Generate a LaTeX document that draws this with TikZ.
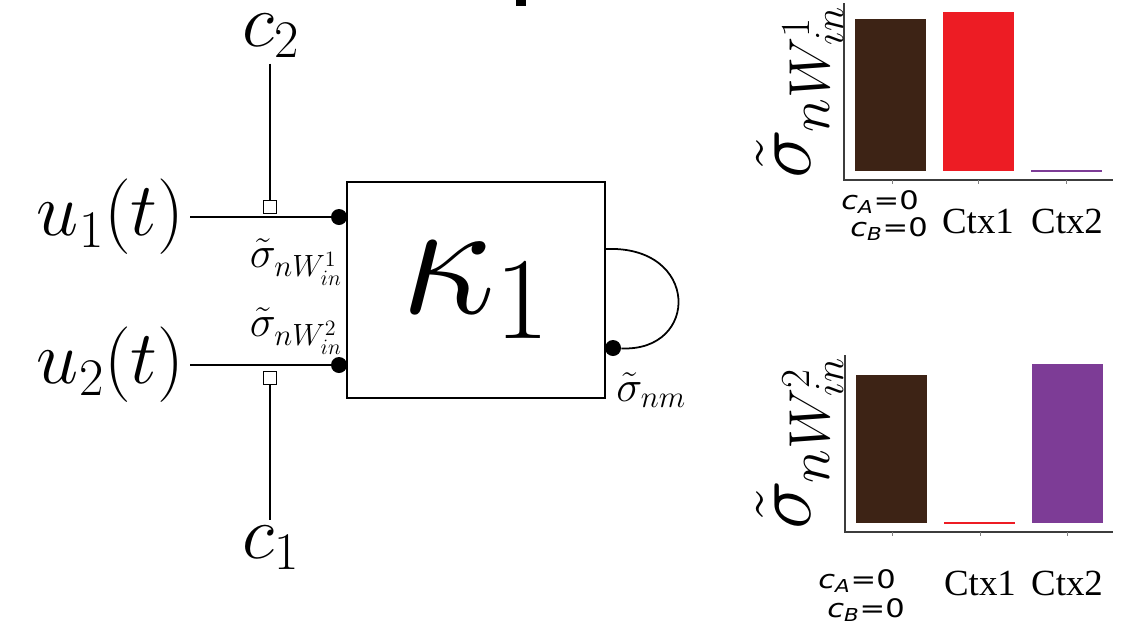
\RequirePackage{fix-cm}
\documentclass[tikz,border=0pt]{standalone}
\usepackage{amsmath}
\usepackage{fontspec}
\newfontfamily\ctxfont{Liberation Serif}
\newfontfamily\zerofont[FakeStretch=1.2]{DejaVu Sans}
\usepackage{tikz}
\usetikzlibrary{positioning}
\definecolor{barbrown}{RGB}{61,35,21}
\definecolor{barred}{RGB}{237,28,36}
\definecolor{barpurple}{RGB}{125,60,150}
\definecolor{axgray}{RGB}{60,60,60}

\newcommand{\czero}[1]{{\itshape c}\textsubscript{\itshape #1}=0}

\begin{document}
\begin{tikzpicture}[
  x=0.02cm, y=-0.02cm,
  unit/.style={rectangle, draw, line width=1pt, minimum width=5.16cm,
               minimum height=4.32cm, font=\fontsize{95}{105}\selectfont},
  dot/.style={circle, fill=black, inner sep=0pt, minimum size=0.32cm},
  ctrl/.style={rectangle, draw, fill=white, line width=0.7pt, inner sep=0pt,
               minimum size=0.27cm},
  wire/.style={line width=1pt},
  bigmath/.style={font=\fontsize{43}{50}\selectfont, inner sep=3pt},
  smallmath/.style={font=\fontsize{25}{29}\selectfont, inner sep=0pt},
  axlbl/.style={font=\fontsize{47}{55}\selectfont, rotate=90, inner sep=0pt},
  ctxlbl/.style={font=\ctxfont\fontsize{21}{24}\selectfont, inner sep=0pt, anchor=base},
  zerolbl/.style={font=\zerofont\fontsize{14.5}{16}\selectfont, inner sep=0pt},
  axis/.style={draw=axgray, line width=0.8pt},
  tick/.style={draw=gray, line width=0.5pt}
]
  \useasboundingbox (0,0) rectangle (1121,630);
  \fill (516,0) rectangle (526,6);

  % unit with its inputs
  \node[unit] (k1) at (476,290) {$\kappa_1$};
  \node[dot] (in1) at (339,217) {};
  \node[dot] (in2) at (339,365) {};
  \node[dot] (rec) at (613,348) {};
  \node[bigmath, anchor=east] (u1) at (190,217) {$u_1(t)$};
  \node[bigmath, anchor=east] (u2) at (190,365) {$u_2(t)$};
  \node[ctrl] (sq2) at (270,207) {};
  \node[ctrl] (sq1) at (270,378) {};
  \node[bigmath] (c2) at (271,36) {$c_2$};
  \node[bigmath] (c1) at (271,548) {$c_1$};
  \node[smallmath, anchor=north east] (s1) at (343,238) {$\tilde{\sigma}_{nW^1_{in}}$};
  \node[smallmath, anchor=south east] (s2) at (343,355) {$\tilde{\sigma}_{nW^2_{in}}$};
  \node[smallmath, anchor=north west] (snm) at (616,372) {$\tilde{\sigma}_{nm}$};
  \coordinate (loop) at (k1.east |- 0,249);

  \draw[wire] (u1) -- (in1);
  \draw[wire] (u2) -- (in2);
  \draw[wire] (sq2 |- c2.south) -- (sq2);
  \draw[wire] (sq1) -- (sq1 |- c1.north);
  \draw[wire] (loop) .. controls (700,245) and (700,352) .. (rec);

  % bars for W_in^1
  \draw[axis] (844,3) -- (844,180) -- (1113,180);
  \fill[barbrown] (855,19) rectangle (926,171);
  \fill[barred] (943,12) rectangle (1014,171);
  \draw[barpurple, line width=0.6pt] (1031,171) -- (1102,171);
  \draw[tick] (892,180) -- (892,184);
  \draw[tick] (978,180) -- (978,184);
  \draw[tick] (1066,180) -- (1066,184);
  \node[axlbl] (y1) at (800,92) {$\tilde{\sigma}_{nW^1_{in}}$};
  \node[zerolbl] (ca1) at (880,202) {\czero{A}};
  \node[zerolbl] (cb1) at (889,229) {\czero{B}};
  \node[ctxlbl] (ctx11) at (978,233) {Ctx1};
  \node[ctxlbl] (ctx21) at (1067,233) {Ctx2};

  % bars for W_in^2
  \draw[axis] (845,355) -- (845,532) -- (1113,532);
  \fill[barbrown] (856,375) rectangle (927,523);
  \draw[barred, line width=0.6pt] (944,523) -- (1015,523);
  \fill[barpurple] (1032,364) rectangle (1103,523);
  \draw[tick] (892,532) -- (892,536);
  \draw[tick] (980,532) -- (980,536);
  \draw[tick] (1067,532) -- (1067,536);
  \node[axlbl] (y2) at (800,443) {$\tilde{\sigma}_{nW^2_{in}}$};
  \node[zerolbl] (ca2) at (857,581) {\czero{A}};
  \node[zerolbl] (cb2) at (866,610) {\czero{B}};
  \node[ctxlbl] (ctx12) at (980,595) {Ctx1};
  \node[ctxlbl] (ctx22) at (1067,595) {Ctx2};
\end{tikzpicture}
\end{document}
